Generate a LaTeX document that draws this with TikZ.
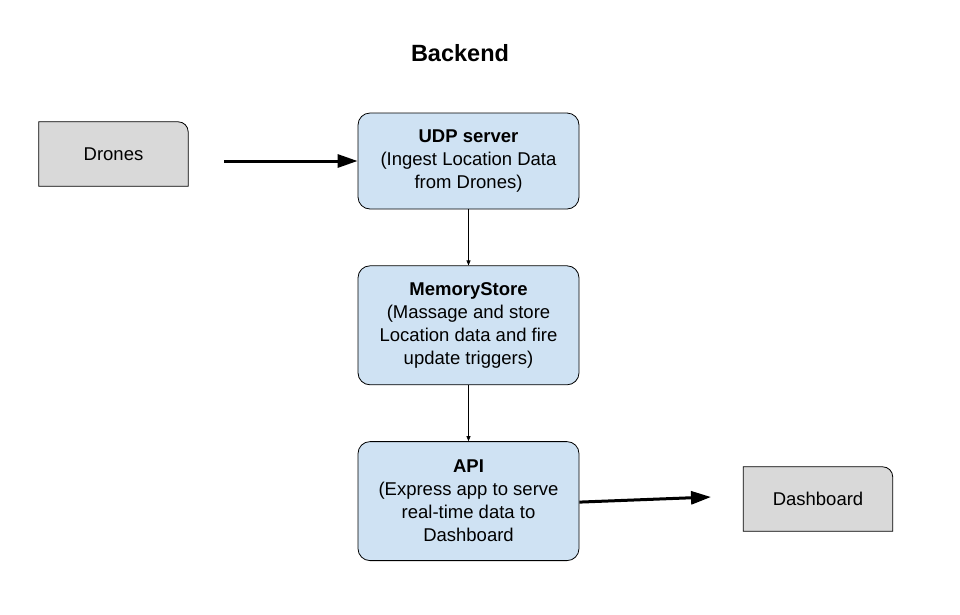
\documentclass[tikz,border=0pt]{standalone}
\usepackage{fontspec}
\setmainfont{Liberation Sans}
\usetikzlibrary{
  arrows.meta,
  positioning,
  backgrounds
}
\definecolor{stageblue}{HTML}{CFE2F3}
\definecolor{devgray}{HTML}{D9D9D9}
\tikzset{
  stage/.style={
    draw, fill=stageblue, rounded corners=12pt, line width=0.8pt,
    minimum width=221pt, align=center,
    font=\fontsize{18.5}{23}\selectfont
  },
  device/.style={
    minimum width=149pt, minimum height=64pt,
    font=\fontsize{18.5}{23}\selectfont
  },
  feed/.style={-{Triangle[length=20pt,width=13pt]}, line width=3pt},
  link/.style={-{Triangle[length=5pt,width=4pt]}, line width=0.7pt}
}

\begin{document}
\begin{tikzpicture}[x=1pt,y=-1pt]
\useasboundingbox (0,0) rectangle (960,614);
\node[font=\bfseries\fontsize{23.5}{28}\selectfont] (title) at (460,53) {Backend};

\node[stage, minimum height=96pt] (udp) at (468.5,161)
  {\textbf{UDP server}\\(Ingest Location Data\\from Drones)};
\node[stage, minimum height=119pt, below=56pt of udp] (memory)
  {\textbf{MemoryStore}\\(Massage and store\\Location data and fire\\update triggers)};
\node[stage, minimum height=119pt, below=56pt of memory] (api)
  {\textbf{API}\\(Express app to serve\\real-time data to\\Dashboard};

\node[device] (drones) at (113.5,154) {Drones};
\node[device] (dashboard) at (818,499) {Dashboard};
% gray boxes, only the top right corner is rounded
\begin{scope}[on background layer]
\foreach \d in {drones,dashboard} {
  \draw[fill=devgray, line width=0.8pt] (\d.south west) -- (\d.north west) [rounded corners=10pt]-- (\d.north east) [sharp corners]-- (\d.south east) -- cycle;
}
\end{scope}

\coordinate (dronesout) at (224,161);
\coordinate (dashin) at (711,497);
\draw[feed] (dronesout) -- (udp.west |- dronesout);
\draw[feed] (api.east) ++(0,1) -- (dashin);
\draw[link] (udp) -- (memory);
\draw[link] (memory) -- (api);
\end{tikzpicture}
\end{document}
